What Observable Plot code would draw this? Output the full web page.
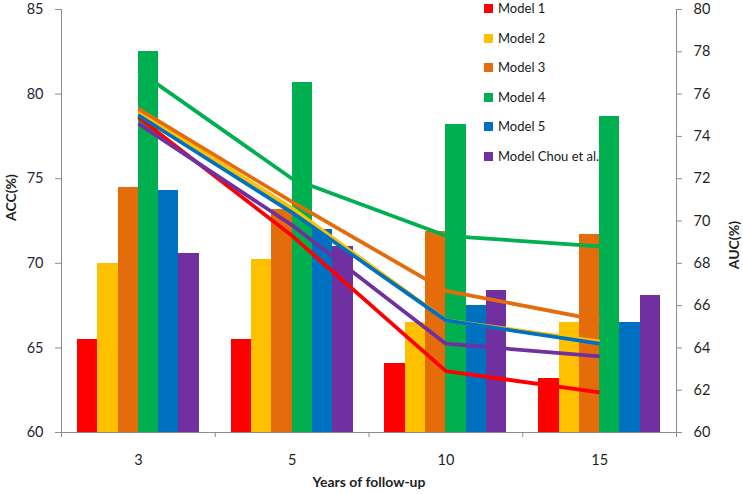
<!DOCTYPE html>
<html>
<head>
<meta charset="utf-8">
<script src="https://cdn.jsdelivr.net/npm/d3@7"></script>
<script src="https://cdn.jsdelivr.net/npm/@observablehq/plot@0.6"></script>
<style>
  html, body { margin: 0; padding: 0; background: #fff; }
  #wrap { position: relative; width: 743px; height: 494px; font-family: Lato, "Open Sans", sans-serif; }
  #legend { position: absolute; left: 484px; top: 0px; }
  .li { position: absolute; left: 0; height: 15px; display: flex; align-items: center; white-space: nowrap; font-size: 13px; line-height: 15px; color: #1a1a1a; }
  .sw { width: 9px; height: 9px; margin-right: 5px; }
</style>
</head>
<body>
<div id="wrap"><div id="legend"></div></div>
<script>
// ---- data ----
const years = ["3", "5", "10", "15"];
const models = ["Model 1", "Model 2", "Model 3", "Model 4", "Model 5", "Model Chou et al."];
const colors = ["#FF0000", "#FFC000", "#E46C0A", "#00B050", "#0070C0", "#7030A0"];

// ACC (%) bars, left axis
const accModel1 = [65.5, 65.5, 64.1, 63.2];
const accModel2 = [70.0, 70.2, 66.5, 66.5];
const accModel3 = [74.5, 73.2, 71.9, 71.7];
const accModel4 = [82.5, 80.7, 78.2, 78.7];
const accModel5 = [74.3, 72.0, 67.5, 66.5];
const accChou   = [70.6, 71.0, 68.4, 68.1];

// AUC (%) lines, right axis
const aucModel1 = [74.9, 69.3, 62.9, 61.9];
const aucModel2 = [75.2, 70.6, 65.3, 64.3];
const aucModel3 = [75.3, 70.9, 66.7, 65.3];
const aucModel4 = [77.1, 72.0, 69.3, 68.8];
const aucModel5 = [75.0, 70.4, 65.3, 64.2];
const aucChou   = [74.6, 69.8, 64.2, 63.6];

const accTicks = [60, 65, 70, 75, 80, 85];
const aucTicks = [60, 62, 64, 66, 68, 70, 72, 74, 76, 78, 80];

// ---- build table ----
const accAll = [accModel1, accModel2, accModel3, accModel4, accModel5, accChou];
const aucAll = [aucModel1, aucModel2, aucModel3, aucModel4, aucModel5, aucChou];
const data = [];
models.forEach((m, k) => years.forEach((y, i) => data.push({model: m, k, i, year: y, acc: accAll[k][i], auc: aucAll[k][i]})));

// right axis (AUC 60–80) mapped onto the left axis domain (ACC 60–85)
const toAcc = v => 60 + (v - 60) * 25 / 20;
const fromAcc = v => Math.round(60 + (v - 60) * 20 / 25);

const BAR_W = 0.132;
const OFF = (1 - models.length * BAR_W) / 2;

const plot = Plot.plot({
  width: 743,
  height: 494,
  marginLeft: 61,
  marginRight: 67,
  marginTop: 9,
  marginBottom: 62,
  style: {fontFamily: "Lato, 'Open Sans', sans-serif", background: "transparent", overflow: "visible"},
  x: {type: "linear", domain: [0, years.length], axis: null},
  y: {domain: [60, 85], axis: null},
  color: {domain: models, range: colors},
  marks: [
    Plot.rect(data, {
      x1: d => d.i + OFF + d.k * BAR_W,
      x2: d => d.i + OFF + (d.k + 1) * BAR_W,
      y1: 60,
      y2: "acc",
      fill: "model",
      shapeRendering: "crispEdges"
    }),
    Plot.line(data, {
      x: d => d.i + 0.5,
      y: d => toAcc(d.auc),
      z: "model",
      stroke: "model",
      strokeWidth: 3.8,
      strokeLinecap: "butt"
    }),
    Plot.ruleX([0, years.length], {stroke: "#8c8c8c", strokeWidth: 1}),
    Plot.ruleY([60], {stroke: "#8c8c8c", strokeWidth: 1}),
    Plot.axisY({ticks: accTicks, tickSize: 6, tickPadding: 12, label: null, fontSize: 14.5, stroke: "#8c8c8c", fill: "#1f2433"}),
    Plot.axisY({anchor: "right", ticks: aucTicks.map(toAcc), tickFormat: d => String(fromAcc(d)), tickSize: 5, tickPadding: 12, label: null, fontSize: 14.5, stroke: "#8c8c8c", fill: "#1f1f1f"}),
    Plot.axisX({ticks: d3.range(0, years.length + 1), tickFormat: () => "", tickSize: 5, label: null, stroke: "#8c8c8c"}),
    Plot.axisX({ticks: years.map((_, i) => i + 0.5), tickFormat: d => years[Math.floor(d)], tickSize: 0, tickPadding: 22, label: null, fontSize: 14.5, fill: "#1f1f1f"}),
    Plot.text(["ACC(%)"], {text: d => d, frameAnchor: "left", dx: -50, rotate: -90, fontWeight: "bold", fontSize: 14, fill: "#1f1f1f"}),
    Plot.text(["AUC(%)"], {text: d => d, frameAnchor: "right", dx: 58, rotate: -90, fontWeight: "bold", fontSize: 14, fill: "#1f1f1f"}),
    Plot.text(["Years of follow-up"], {text: d => d, frameAnchor: "bottom", dy: 54, fontWeight: "bold", fontSize: 14, fill: "#1f1f1f"})
  ]
});
document.getElementById("wrap").prepend(plot);

// legend overlay
const lg = d3.select("#legend");
models.forEach((m, k) => {
  const row = lg.append("div").attr("class", "li").style("top", (k * 29.6 + 1) + "px");
  row.append("div").attr("class", "sw").style("background", colors[k]);
  row.append("span").text(m);
});
</script>
</body>
</html>
